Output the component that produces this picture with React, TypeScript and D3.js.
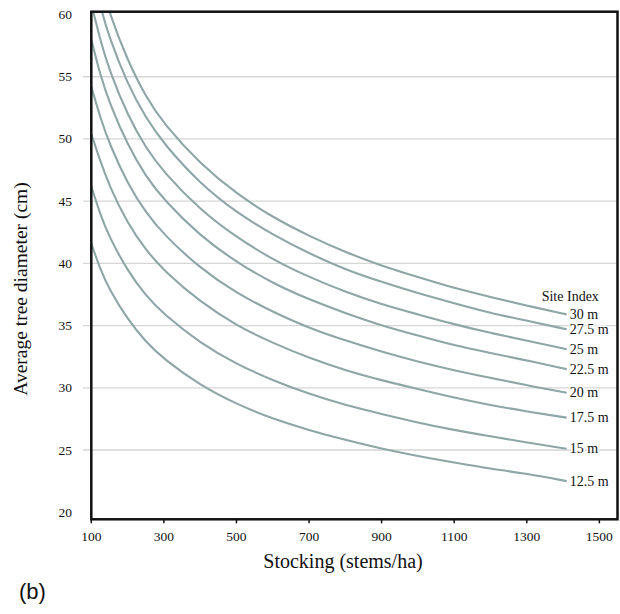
import React from "react";
import * as d3 from "d3";

const stocking = [100, 125, 150, 200, 250, 300, 400, 500, 600, 700, 800, 900, 1000, 1100, 1200, 1300, 1410];
const siteIndex = ["30 m", "27.5 m", "25 m", "22.5 m", "20 m", "17.5 m", "15 m", "12.5 m"];
const si30 = [66.0, 62.7, 60.1, 56.3, 53.4, 51.2, 48.0, 45.6, 43.7, 42.2, 40.9, 39.8, 38.9, 38.0, 37.3, 36.6, 35.9];
const si275 = [63.8, 60.6, 58.1, 54.4, 51.7, 49.6, 46.4, 44.1, 42.3, 40.8, 39.5, 38.5, 37.6, 36.8, 36.0, 35.4, 34.7];
const si25 = [60.9, 57.9, 55.5, 51.9, 49.3, 47.3, 44.3, 42.1, 40.3, 38.9, 37.7, 36.7, 35.9, 35.1, 34.4, 33.8, 33.1];
const si225 = [58.0, 55.1, 52.9, 49.5, 47.0, 45.1, 42.2, 40.1, 38.4, 37.1, 36.0, 35.0, 34.2, 33.4, 32.8, 32.2, 31.5];
const si20 = [54.2, 51.7, 49.6, 46.4, 44.1, 42.3, 39.6, 37.6, 36.1, 34.8, 33.8, 32.9, 32.1, 31.4, 30.8, 30.2, 29.6];
const si175 = [50.4, 48.2, 46.2, 43.2, 41.1, 39.4, 36.9, 35.0, 33.6, 32.4, 31.4, 30.6, 29.9, 29.2, 28.6, 28.1, 27.6];
const si15 = [46.2, 43.9, 42.1, 39.4, 37.4, 35.9, 33.6, 31.9, 30.6, 29.5, 28.6, 27.9, 27.2, 26.6, 26.1, 25.6, 25.1];
const si125 = [41.6, 39.5, 37.9, 35.5, 33.7, 32.3, 30.2, 28.7, 27.5, 26.6, 25.8, 25.1, 24.5, 24.0, 23.5, 23.1, 22.5];
const seriesValues = [si30, si275, si25, si225, si20, si175, si15, si125];

const xTicks = [100, 300, 500, 700, 900, 1100, 1300, 1500];
const yTicks = [20, 25, 30, 35, 40, 45, 50, 55, 60];
const gridValues = [25, 30, 35, 40, 45, 50, 55];

export default function App() {
  const W = 620, H = 614;
  const left = 91.3, right = 617.5, top = 11.7, bottom = 519.3;
  const x = d3.scaleLinear().domain([100, 1550]).range([left, right]);
  const y = d3.scaleLinear().domain([19.43, 60.23]).range([bottom, top]);
  const line = d3
    .line<[number, number]>()
    .x((d) => x(d[0]))
    .y((d) => y(d[1]))
    .curve(d3.curveBasis);
  const serif = "'Liberation Serif', 'DejaVu Serif', serif";
  const curveColor = "#8fa6a6";
  const endX = x(stocking[stocking.length - 1]);

  return (
    <svg
      width={W}
      height={H}
      style={{ position: "absolute", left: 0, top: 0, background: "#fff" }}
      fontFamily={serif}
    >
      <defs>
        <clipPath id="plotClip">
          <rect x={left} y={top} width={right - left} height={bottom - top} />
        </clipPath>
      </defs>
      {gridValues.map((v) => (
        <line key={v} x1={83} x2={right} y1={y(v)} y2={y(v)} stroke="#d6d6d6" strokeWidth={1.3} />
      ))}
      {yTicks.map((v) => (
        <text key={v} x={72} y={y(v)} textAnchor="end" dominantBaseline="central" fontSize={13.5} fill="#111">
          {v}
        </text>
      ))}
      <g clipPath="url(#plotClip)">
        {seriesValues.map((vals, i) => (
          <path
            key={i}
            d={line(stocking.map((n, j) => [n, vals[j]] as [number, number])) || ""}
            fill="none"
            stroke={curveColor}
            strokeWidth={2.1}
          />
        ))}
      </g>
      <text x={endX - 25} y={y(si30[si30.length - 1]) - 18} dominantBaseline="central" fontSize={14} fill="#111">
        Site Index
      </text>
      {seriesValues.map((vals, i) => (
        <text
          key={i}
          x={endX + 3}
          y={y(vals[vals.length - 1])}
          dominantBaseline="central"
          fontSize={14}
          fill="#111"
          stroke="#fff"
          strokeWidth={3}
          paintOrder="stroke"
        >
          {siteIndex[i]}
        </text>
      ))}
      <rect x={left} y={top} width={right - left} height={bottom - top} fill="none" stroke="#111" strokeWidth={2.5} />
      {xTicks.map((v) => (
        <g key={v}>
          <line x1={x(v)} x2={x(v)} y1={bottom} y2={bottom + 4} stroke="#111" strokeWidth={1.5} />
          <text x={x(v)} y={bottom + 17} textAnchor="middle" dominantBaseline="central" fontSize={13.5} fill="#111">
            {v}
          </text>
        </g>
      ))}
      <text x={343} y={561} textAnchor="middle" dominantBaseline="central" fontSize={20} fill="#111">
        Stocking (stems/ha)
      </text>
      <text
        transform={`translate(20, 289) rotate(-90)`}
        textAnchor="middle"
        dominantBaseline="central"
        fontSize={19.5}
        fill="#111"
      >
        Average tree diameter (cm)
      </text>
      <text x={19} y={591} dominantBaseline="central" fontSize={22} fontFamily="'Liberation Sans', Arial, sans-serif" fill="#111">
        (b)
      </text>
    </svg>
  );
}
